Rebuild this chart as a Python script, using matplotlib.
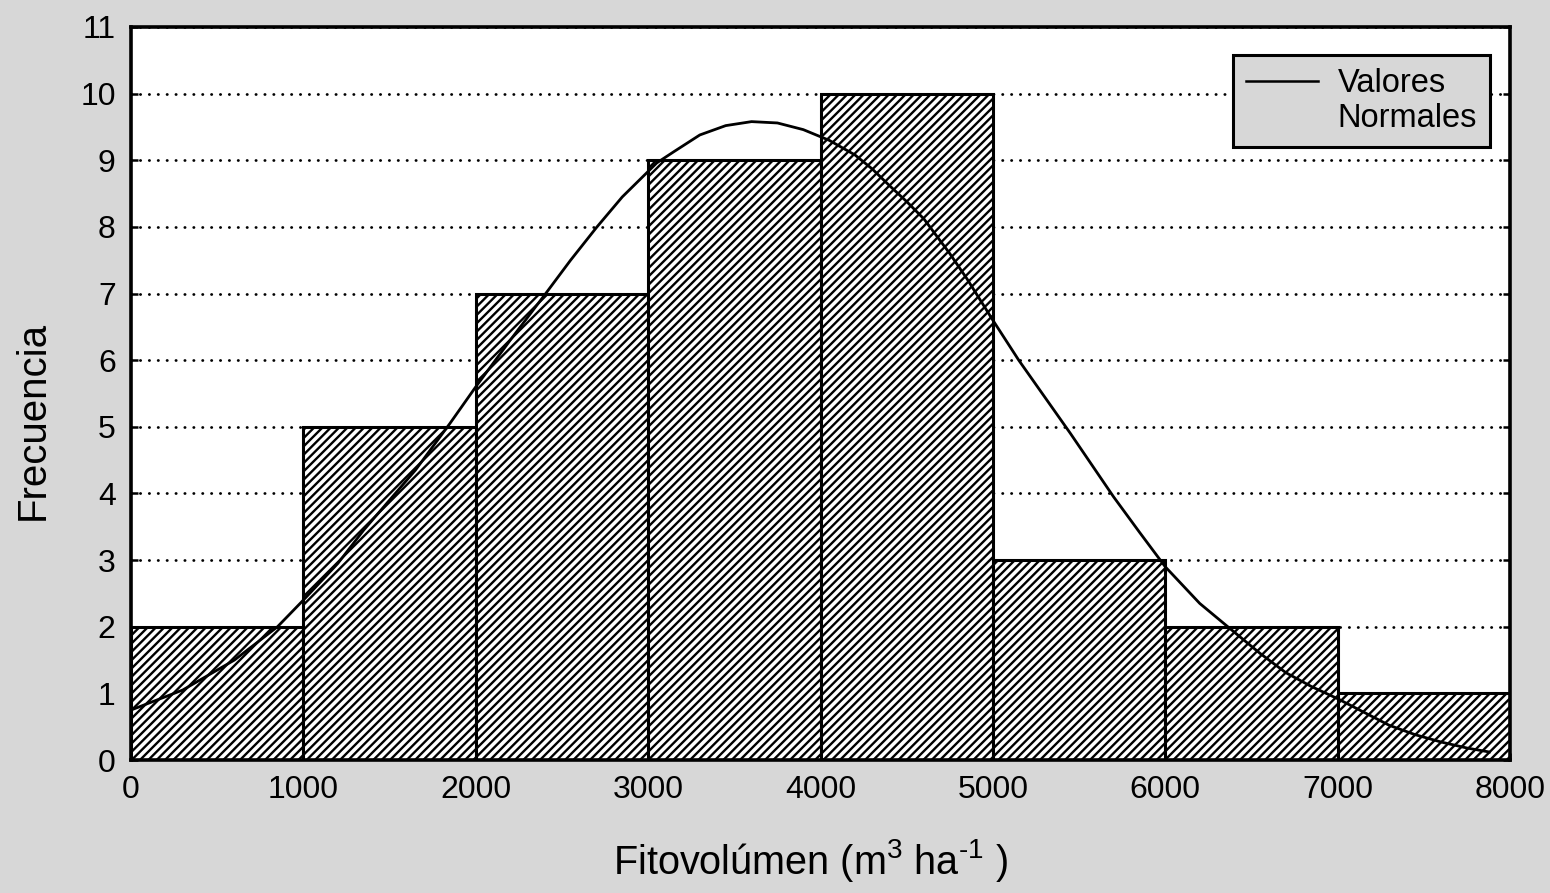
import matplotlib
matplotlib.use("Agg")
import matplotlib.pyplot as plt
from matplotlib.lines import Line2D

plt.rcParams['font.family'] = ['Liberation Sans', 'DejaVu Sans']
plt.rcParams['mathtext.default'] = 'regular'
plt.rcParams['hatch.linewidth'] = 1.7
plt.rcParams['hatch.color'] = 'black'

# ---- data ----
bin_left = [0, 1000, 2000, 3000, 4000, 5000, 6000, 7000]
bin_width = 1000
frequencies = [2, 5, 7, 9, 10, 3, 2, 1]

curve_x = [0, 300, 600, 850, 1000, 1200, 1350, 1500, 1650, 1850, 2000, 2200,
           2400, 2550, 2700, 2850, 3050, 3150, 3300, 3450, 3600, 3750, 3900,
           4050, 4200, 4300, 4400, 4500, 4600, 4750, 4850, 5000, 5150, 5300,
           5450, 5700, 5850, 6000, 6200, 6400, 6550, 6700, 6850, 7000, 7150,
           7300, 7450, 7600, 7750, 7880]
curve_y = [0.75, 1.05, 1.5, 2.0, 2.4, 2.95, 3.45, 3.9, 4.35, 5.05, 5.6, 6.3,
           6.98, 7.5, 7.99, 8.45, 8.96, 9.13, 9.38, 9.52, 9.58, 9.56, 9.46,
           9.30, 9.08, 8.87, 8.62, 8.38, 8.12, 7.6, 7.22, 6.6, 6.0, 5.45,
           4.9, 3.95, 3.42, 2.9, 2.35, 1.92, 1.6, 1.31, 1.1, 0.92, 0.72,
           0.52, 0.38, 0.27, 0.18, 0.12]

x_ticks = [0, 1000, 2000, 3000, 4000, 5000, 6000, 7000, 8000]
y_ticks = list(range(0, 12))

bg = '#d7d7d7'

fig = plt.figure(figsize=(15.5, 8.93), dpi=100, facecolor=bg)
ax = fig.add_axes([131 / 1550, 1 - 760 / 893, 1379 / 1550, 733 / 893])
ax.set_facecolor('white')

# grid
ax.set_axisbelow(True)
ax.yaxis.grid(True, color='black', linewidth=2.0, linestyle=(0, (0.1, 3.1)),
              dash_capstyle='round')
ax.xaxis.grid(False)

ax.bar(bin_left, frequencies, width=bin_width, align='edge',
       facecolor='white', edgecolor='black', linewidth=2.2, hatch='////',
       zorder=2)

line, = ax.plot(curve_x, curve_y, color='black', linewidth=2.0, zorder=3,
                solid_joinstyle='round')

ax.set_xlim(0, 8000)
ax.set_ylim(0, 11)
ax.set_xticks(x_ticks)
ax.set_xticklabels([str(t) for t in x_ticks])
ax.set_yticks(y_ticks)
ax.set_yticklabels([str(t) for t in y_ticks])

for s in ax.spines.values():
    s.set_linewidth(2.6)
    s.set_zorder(5)

ax.tick_params(axis='both', direction='in', length=5, width=1.8,
               labelsize=23, pad=11, colors='black')
ax.tick_params(axis='y', right=True)

ax.set_xlabel('Fitovolúmen (m$^{3}$ ha$^{\u2010 1}$ )', fontsize=28.5, va='center')
ax.xaxis.set_label_coords((810 - 131) / 1379, (760 - 860) / 733)
ax.set_ylabel('Frecuencia', fontsize=29, va='center')
ax.yaxis.set_label_coords((33 - 131) / 1379, (760 - 420) / 733)

handles = [Line2D([], [], color='black', linewidth=1.8),
           Line2D([], [], color='none', linewidth=0)]
leg = ax.legend(handles, ['Valores', 'Normales'], loc='upper right',
                bbox_to_anchor=((1490 - 131) / 1379, (760 - 55) / 733),
                borderaxespad=0, fontsize=23.5, frameon=True, fancybox=False,
                framealpha=1, facecolor=bg, edgecolor='black',
                handlelength=2.2, handletextpad=0.6, labelspacing=0.12,
                borderpad=0.4)
leg.get_frame().set_linewidth(2.2)
leg.set_zorder(6)

fig.savefig('out.png', dpi=100, facecolor=bg)
